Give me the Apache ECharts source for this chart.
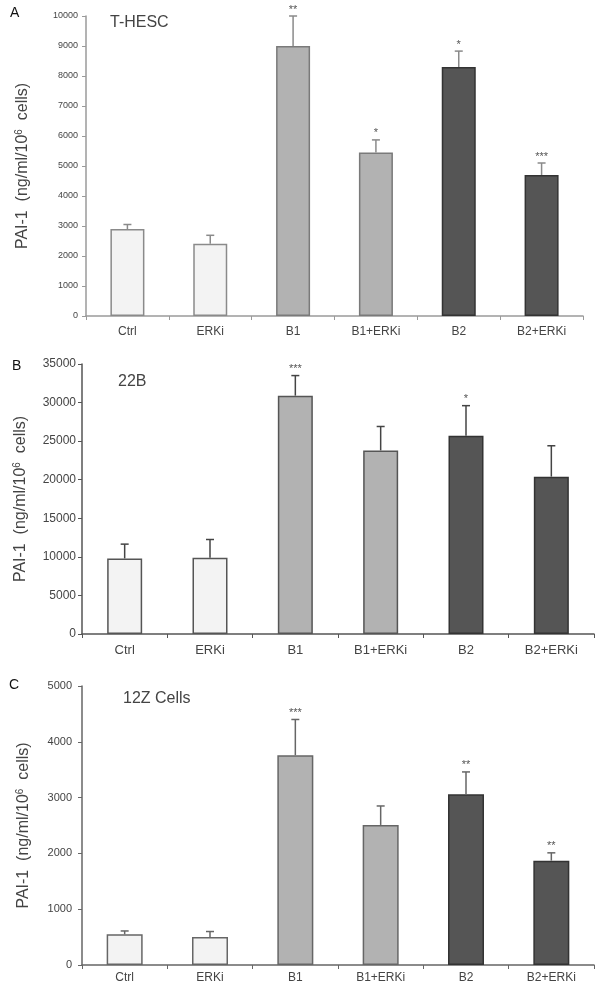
<!DOCTYPE html>
<html>
<head>
<meta charset="utf-8">
<script src="https://cdn.jsdelivr.net/npm/echarts@6/dist/echarts.min.js"></script>
<style>
html,body{margin:0;padding:0;background:#fff;}
#chart{width:600px;height:992px;}
</style>
</head>
<body>
<div id="chart"></div>
<script>
// ---- data ----
const categories = ['Ctrl', 'ERKi', 'B1', 'B1+ERKi', 'B2', 'B2+ERKi'];

const meanA = [2900, 2410, 9000, 5450, 8300, 4700];
const errA = [150, 280, 1000, 420, 530, 400];
const starsA = ['', '', '**', '*', '*', '***'];

const meanB = [9800, 9900, 30900, 23800, 25700, 20400];
const errB = [1850, 2350, 2600, 3100, 3900, 4000];
const starsB = ['', '', '***', '', '*', ''];

const meanC = [550, 500, 3760, 2510, 3060, 1870];
const errC = [60, 100, 640, 340, 400, 140];
const starsC = ['', '', '***', '', '**', '**'];

const yTicksA = {min: 0, max: 10000, interval: 1000};
const yTicksB = {min: 0, max: 35000, interval: 5000};
const yTicksC = {min: 0, max: 5000, interval: 1000};

const titles = ['T-HESC', '22B', '12Z Cells'];
const panelLetters = ['A', 'B', 'C'];
const yName = 'PAI-1  (ng/ml/10{sup|6}  cells)';

// ---- styling ----
const FONT = 'Liberation Sans, Arial, sans-serif';
const fills = ['#f3f3f3', '#f3f3f3', '#b2b2b2', '#b2b2b2', '#555555', '#555555'];
const panels = [
  {mean: meanA, err: errA, stars: starsA, ticks: yTicksA,
   grid: {left: 86, top: 16, width: 497, height: 300},
   axisColor: '#9a9a9a', borders: ['#8a8a8a','#8a8a8a','#7a7a7a','#7a7a7a','#333','#333'],
   errColor: '#8a8a8a', yFont: 9, xFont: 12, xMargin: 10, yMargin: 8, nameGap: 54, barWidth: 34},
  {mean: meanB, err: errB, stars: starsB, ticks: yTicksB,
   grid: {left: 82, top: 364, width: 512, height: 270},
   axisColor: '#555', borders: ['#555','#555','#555','#555','#333','#333'],
   errColor: '#444', yFont: 12, xFont: 13, xMargin: 10, yMargin: 6, nameGap: 52, barWidth: 35},
  {mean: meanC, err: errC, stars: starsC, ticks: yTicksC,
   grid: {left: 82, top: 686, width: 512, height: 279},
   axisColor: '#666', borders: ['#666','#666','#666','#666','#333','#333'],
   errColor: '#666', yFont: 11, xFont: 12, xMargin: 7, yMargin: 10, nameGap: 49, barWidth: 36}
];

const grid = [], xAxis = [], yAxis = [], series = [], graphic = [];
panels.forEach((p, i) => {
  grid.push(Object.assign({containLabel: false}, p.grid));
  xAxis.push({
    type: 'category', gridIndex: i, data: categories,
    axisLine: {lineStyle: {color: p.axisColor, width: 1.5}},
    axisTick: {show: true, alignWithLabel: false, length: 4, lineStyle: {color: p.axisColor}},
    axisLabel: {color: '#444', fontFamily: FONT, fontSize: p.xFont, margin: p.xMargin, interval: 0},
    splitLine: {show: false}
  });
  yAxis.push({
    type: 'value', gridIndex: i, min: p.ticks.min, max: p.ticks.max, interval: p.ticks.interval,
    axisLine: {show: true, lineStyle: {color: p.axisColor, width: 1.5}},
    axisTick: {show: true, length: 4, lineStyle: {color: p.axisColor}},
    axisLabel: {color: '#444', fontFamily: FONT, fontSize: p.yFont, margin: p.yMargin,
      formatter: v => String(v)},
    splitLine: {show: false},
    name: yName, nameLocation: 'middle', nameRotate: 90, nameGap: p.nameGap,
    nameTextStyle: {color: '#444', fontFamily: FONT, fontSize: 16,
      rich: {sup: {fontSize: 10, fontFamily: FONT, color: '#444', padding: [0, 0, 8, 0]}}}
  });
  series.push({
    type: 'bar', xAxisIndex: i, yAxisIndex: i, barWidth: p.barWidth,
    data: p.mean.map((v, k) => ({value: v, itemStyle: {color: fills[k], borderColor: p.borders[k], borderWidth: 1.5}})),
    z: 2
  });
  const stars = p.stars;
  series.push({
    type: 'custom', xAxisIndex: i, yAxisIndex: i, z: 3,
    data: p.mean.map((v, k) => [k, v, v + p.err[k]]),
    renderItem: (params, api) => {
      const base = api.coord([api.value(0), api.value(1)]);
      const top = api.coord([api.value(0), api.value(2)]);
      const s = {stroke: p.errColor, lineWidth: 1.5};
      const children = [
        {type: 'line', shape: {x1: base[0], y1: base[1], x2: top[0], y2: top[1]}, style: s},
        {type: 'line', shape: {x1: top[0] - 4, y1: top[1], x2: top[0] + 4, y2: top[1]}, style: s}
      ];
      const st = stars[params.dataIndex];
      if (st) {
        children.push({type: 'text', style: {text: st, x: top[0], y: top[1] - 1, align: 'center',
          verticalAlign: 'bottom', fill: '#555', font: '11px ' + FONT}});
      }
      return {type: 'group', children};
    }
  });
});

// panel titles and letters
const titlePos = [[110, 23], [118, 382], [123, 699]];
const letterPos = [[10, 13], [12, 366], [9, 685]];
titles.forEach((t, i) => {
  graphic.push({type: 'text', x: titlePos[i][0], y: titlePos[i][1],
    style: {text: t, fill: '#444', font: '16px ' + FONT, verticalAlign: 'middle'}});
  graphic.push({type: 'text', x: letterPos[i][0], y: letterPos[i][1],
    style: {text: panelLetters[i], fill: '#111', font: '14px ' + FONT, verticalAlign: 'middle'}});
});

const chart = echarts.init(document.getElementById('chart'), null, {renderer: 'canvas'});
chart.setOption({
  backgroundColor: '#ffffff',
  animation: false,
  grid, xAxis, yAxis, series, graphic
});
</script>
</body>
</html>
